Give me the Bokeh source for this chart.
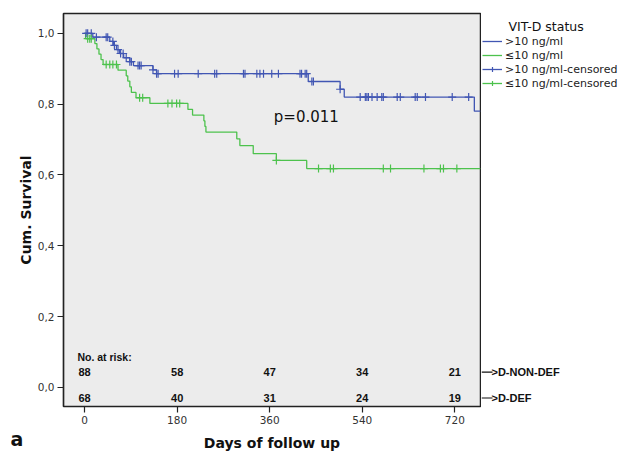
import numpy as np
from bokeh.plotting import figure
from bokeh.layouts import row
from bokeh.models import Range1d, Label, Legend, LegendItem, FixedTicker, LinearAxis
from bokeh.core.properties import value
from bokeh.embed import file_html
from bokeh.resources import INLINE

# ---- data ----
blue_times = [0, 16, 49, 56, 62, 68, 76, 88, 95, 133, 140, 435, 497, 505, 758, 770]
blue_surv = [1.0, 0.989, 0.977, 0.966, 0.954, 0.943, 0.931, 0.920, 0.909, 0.897, 0.886,
             0.864, 0.842, 0.820, 0.780, 0.780]
blue_censor = [3, 6, 13, 23, 42, 45, 55, 58, 65, 70, 75, 81, 88, 91, 104, 107, 110, 133, 140,
               143, 175, 182, 221, 253, 257, 309, 312, 335, 341, 348, 364, 377, 419, 422, 429,
               432, 442, 445, 497, 536, 546, 549, 552, 559, 569, 578, 581, 608, 614, 643, 647,
               663, 715, 747]

green_times = [0, 2, 20, 24, 28, 32, 36, 65, 81, 84, 88, 91, 100, 127, 201, 210, 232, 234, 236,
               296, 302, 328, 373, 432, 770]
green_surv = [1.0, 0.985, 0.971, 0.956, 0.941, 0.926, 0.912, 0.896, 0.880, 0.865, 0.849, 0.833,
              0.818, 0.802, 0.785, 0.769, 0.753, 0.737, 0.721, 0.702, 0.683, 0.660, 0.641,
              0.618, 0.618]
green_censor = [6, 10, 13, 42, 49, 55, 62, 107, 113, 162, 170, 179, 185, 373, 455, 478, 484,
                581, 595, 660, 692, 698, 724]

x_ticks = [0, 180, 360, 540, 720]
y_ticks = [0.0, 0.2, 0.4, 0.6, 0.8, 1.0]
y_tick_labels = ["0,0", "0,2", "0,4", "0,6", "0,8", "1,0"]
risk_nondef = ["88", "58", "47", "34", "21"]
risk_def = ["68", "40", "31", "24", "19"]
risk_groups = ["D-NON-DEF", "D-DEF"]
legend_labels = [">10 ng/ml", "\u226410 ng/ml", ">10 ng/ml-censored", "\u226410 ng/ml-censored"]

BLUE = "#4156b3"
GREEN = "#4dc24d"
TXT = "#111111"

# ---- geometry ----
X0, X1 = -41, 770
Y0, Y1 = -0.054, 1.056
FRAME_W, FRAME_H = 417, 393
TOP, BOTTOM = 13, 46
LEFT_STRIP, MAIN_LEFT, MAIN_RIGHT = 33, 30, 1
RIGHT_STRIP = 621 - LEFT_STRIP - MAIN_LEFT - FRAME_W - MAIN_RIGHT
ppu = FRAME_H / (Y1 - Y0)          # pixels per survival unit
row1_y, row2_y, risk_title_y = 0.043, -0.030, 0.085
LEG_ROW_H, LEG_SPACING, LEG_TOP = 12, 1, 38.5


def surv_at(times, surv, t):
    idx = np.searchsorted(np.array(times), np.array(t), side="right") - 1
    return list(np.array(surv)[idx])


def strip(width):
    f = figure(frame_width=width, frame_height=FRAME_H, output_backend="svg",
               toolbar_location=None, x_range=Range1d(0, width), y_range=Range1d(Y0, Y1),
               x_axis_type=None, y_axis_type=None,
               min_border_left=0, min_border_right=0, min_border_top=TOP,
               min_border_bottom=BOTTOM)
    f.outline_line_color = None
    f.background_fill_color = "white"
    f.border_fill_color = "white"
    return f


# ---- main plot ----
p = figure(frame_width=FRAME_W, frame_height=FRAME_H, output_backend="svg", toolbar_location=None,
           x_range=Range1d(X0, X1), y_range=Range1d(Y0, Y1),
           min_border_left=MAIN_LEFT, min_border_right=MAIN_RIGHT,
           min_border_top=TOP, min_border_bottom=BOTTOM)
p.background_fill_color = "#ececec"
p.border_fill_color = "white"
p.outline_line_color = "#222222"
p.outline_line_width = 1.5
p.xgrid.visible = False
p.ygrid.visible = False

for ax in (p.xaxis, p.yaxis):
    ax.axis_line_color = "#222222"
    ax.axis_line_width = 1.2
    ax.major_tick_line_color = "#222222"
    ax.major_tick_line_width = 1.2
    ax.major_tick_out = 6
    ax.major_tick_in = 0
    ax.minor_tick_line_color = None
    ax.major_label_text_font = "DejaVu Sans"
    ax.major_label_text_font_size = "10.5px"
    ax.major_label_text_color = "#333333"
    ax.major_label_standoff = 3

p.xaxis.ticker = FixedTicker(ticks=x_ticks)
p.yaxis.ticker = FixedTicker(ticks=y_ticks)
p.yaxis.major_label_overrides = {t: l for t, l in zip(y_ticks, y_tick_labels)}
p.xaxis.axis_label = "Days of follow up"
p.xaxis.axis_label_text_font = "DejaVu Sans"
p.xaxis.axis_label_text_font_style = "bold"
p.xaxis.axis_label_text_font_size = "14px"
p.xaxis.axis_label_text_color = TXT
p.xaxis.axis_label_standoff = 8

p.step(blue_times, blue_surv, mode="after", line_color=BLUE, line_width=1.3)
p.step(green_times, green_surv, mode="after", line_color=GREEN, line_width=1.3)
p.scatter(blue_censor, surv_at(blue_times, blue_surv, blue_censor), marker="cross",
          size=8, line_color=BLUE, line_width=1.2)
p.scatter(green_censor, surv_at(green_times, green_surv, green_censor), marker="cross",
          size=8, line_color=GREEN, line_width=1.2)

bold_small = dict(text_font=value("Liberation Sans"), text_font_style="bold",
                  text_font_size="11px", text_color=TXT)
p.text(x=x_ticks, y=[row1_y] * 5, text=risk_nondef, text_align="center",
       text_baseline="middle", **bold_small)
p.text(x=x_ticks, y=[row2_y] * 5, text=risk_def, text_align="center",
       text_baseline="middle", **bold_small)
p.add_layout(Label(x=-14, y=risk_title_y, text="No. at risk:", text_baseline="middle",
                   text_font="Liberation Sans", text_font_style="bold", text_font_size="10.5px",
                   text_color=TXT))
p.add_layout(Label(x=368, y=0.763, text="p=0.011", text_baseline="middle",
                   text_font="DejaVu Sans", text_font_size="15px", text_color=TXT))

# ---- left strip: y title and panel letter ----
pl = strip(LEFT_STRIP)
pl.text(x=[25], y=[(Y0 + Y1) / 2], text=["Cum. Survival"], angle=np.pi / 2,
        text_align="center", text_baseline="middle", text_font=value("DejaVu Sans"),
        text_font_style="bold", text_font_size="14px", text_color=TXT)
letter_axis = LinearAxis(ticker=FixedTicker(ticks=[]), axis_line_color=None,
                         major_tick_line_color=None, minor_tick_line_color=None,
                         major_label_text_font_size="0px", axis_label="a",
                         axis_label_text_font="DejaVu Sans", axis_label_text_font_style="bold",
                         axis_label_text_font_size="19px", axis_label_text_color=TXT,
                         axis_label_standoff=21)
pl.add_layout(letter_axis, "below")

# ---- right strip: legend and risk group labels ----
pr = strip(RIGHT_STRIP)
# legend-only renderers: a single point kept below the visible range
off_x, off_y = [RIGHT_STRIP / 2], [Y0 - 1]
d_blue = pr.step(off_x, off_y, mode="after", line_color=BLUE, line_width=1.3)
d_green = pr.step(off_x, off_y, mode="after", line_color=GREEN, line_width=1.3)
d_bc = pr.scatter(off_x, off_y, marker="cross", size=10, line_color=BLUE, line_width=1.2)
d_gc = pr.scatter(off_x, off_y, marker="cross", size=10, line_color=GREEN, line_width=1.2)

n_items = len(legend_labels)
leg_h = n_items * LEG_ROW_H + (n_items - 1) * LEG_SPACING
legend = Legend(items=[
    LegendItem(label=legend_labels[0], renderers=[d_blue]),
    LegendItem(label=legend_labels[1], renderers=[d_green]),
    LegendItem(label=legend_labels[2], renderers=[d_blue, d_bc]),
    LegendItem(label=legend_labels[3], renderers=[d_green, d_gc]),
], location=(1, FRAME_H - (LEG_TOP - TOP) - leg_h))
legend.label_text_font = "DejaVu Sans"
legend.label_text_font_size = "11px"
legend.label_text_color = "#222222"
legend.label_standoff = 3
legend.label_height = LEG_ROW_H
legend.glyph_height = LEG_ROW_H
legend.glyph_width = 20
legend.spacing = LEG_SPACING
legend.padding = 0
legend.margin = 0
legend.border_line_color = None
legend.background_fill_alpha = 0
pr.add_layout(legend, "center")

pr.text(x=[27], y=[Y1 - (26 - TOP) / ppu], text=["VIT-D status"], text_align="left",
        text_baseline="middle", text_font=value("DejaVu Sans"), text_font_size="12.5px",
        text_color=TXT)
pr.segment(x0=[0, 0], y0=[row1_y, row2_y], x1=[11, 11], y1=[row1_y, row2_y],
           line_color=TXT, line_width=1.2)
pr.text(x=[10, 10], y=[row1_y, row2_y], text=[">" + g for g in risk_groups],
        text_align="left", text_baseline="middle", **bold_small)

layout = row(pl, p, pr, spacing=0)
open("out.html", "w").write(file_html(layout, INLINE))
